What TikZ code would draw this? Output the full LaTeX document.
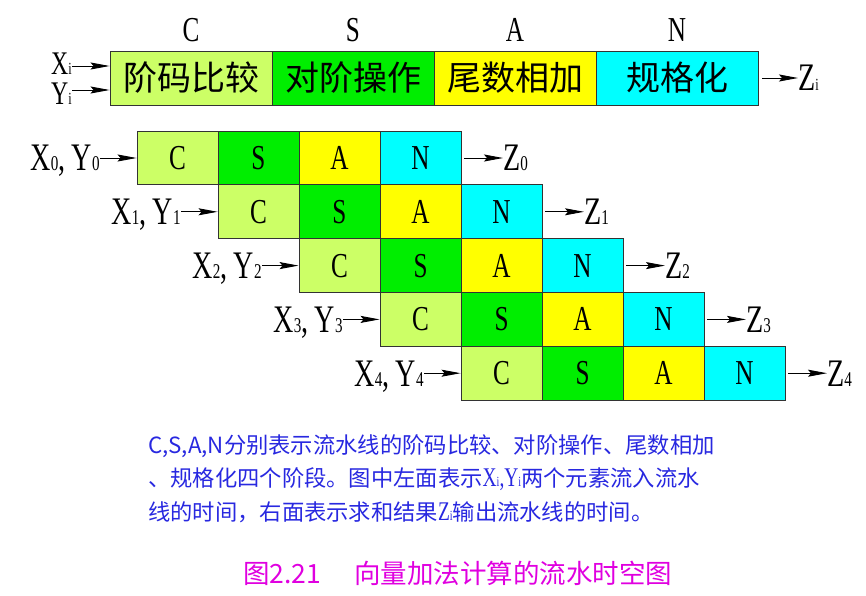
\documentclass[tikz,border=0pt]{standalone}
\usepackage{fontspec}
\usetikzlibrary{arrows.meta}
\setmainfont{Liberation Serif}
\newfontfamily\cjk{Noto Sans CJK SC}
\newfontfamily\nar[FakeStretch=0.72]{Liberation Serif}
\newcommand\sbs[1]{{\fontsize{21}{21}\selectfont #1}}
\newcommand\tsb[1]{{\fontsize{17}{17}\selectfont #1}}
\newcommand\nsb[1]{{\fontsize{14}{14}\selectfont #1}}
\definecolor{clg}{HTML}{CCFF66}
\definecolor{cgr}{HTML}{00EE00}
\definecolor{cye}{HTML}{FFFF00}
\definecolor{ccy}{HTML}{00FFFF}
\definecolor{cbl}{HTML}{2828E0}
\definecolor{cmg}{HTML}{E000E0}
\begin{document}
\begin{tikzpicture}[x=1pt,y=-1pt,
  tcell/.style={draw=black!80, line width=0.9pt, inner sep=0pt, minimum width=162pt, minimum height=54pt, font=\cjk\fontsize{34}{34}\selectfont},
  pcell/.style={draw=black!80, line width=0.9pt, inner sep=0pt, minimum width=81pt, minimum height=53.8pt, font=\nar\fontsize{35}{35}\selectfont},
  head/.style={inner sep=0pt, font=\nar\fontsize{35}{35}\selectfont},
  lab/.style={inner sep=0pt, font=\nar\fontsize{39}{39}\selectfont},
  slab/.style={inner sep=0pt, font=\nar\fontsize{33}{33}\selectfont},
  arr/.style={-{Stealth[length=19pt,width=7pt,inset=3pt]}, line width=0.9pt},
  note/.style={inner sep=0pt, anchor=west, text=cbl, font=\cjk\fontsize{22.3}{22.3}\selectfont}
]
\useasboundingbox (0,0) rectangle (866,596);

% headings
\node[head] (h0) at (191,30) {C};
\node[head] (h1) at (353,30) {S};
\node[head] (h2) at (515,30) {A};
\node[head] (h3) at (677,30) {N};

% top bar
\node[tcell, fill=clg] (t0) at (191,78) {阶码比较};
\node[tcell, fill=cgr] (t1) at (353,78) {对阶操作};
\node[tcell, fill=cye] (t2) at (515,78) {尾数相加};
\node[tcell, fill=ccy] (t3) at (677,78) {规格化};

\node[slab, anchor=base east] (xi) at (72,75) {X\tsb{i}};
\node[slab, anchor=base east] (yi) at (72,105) {Y\tsb{i}};
\coordinate (xa) at (72,66);
\coordinate (ya) at (72,90);
\draw[arr] (xa) -- (xa -| t0.west);
\draw[arr] (ya) -- (ya -| t0.west);
\node[lab, anchor=base west] (zi) at (798,91) {Z\tsb{i}};
\draw[arr] ([xshift=4pt]t3.east) -- (zi.base west |- t3.east);

% pipeline rows
\foreach \i in {0,...,4}{
  \pgfmathsetmacro{\xl}{137+81*\i}
  \pgfmathsetmacro{\yc}{158+53.8*\i}
  \node[pcell, fill=clg] (r\i0) at (\xl+40.5,\yc) {C};
  \node[pcell, fill=cgr] (r\i1) at (\xl+121.5,\yc) {S};
  \node[pcell, fill=cye] (r\i2) at (\xl+202.5,\yc) {A};
  \node[pcell, fill=ccy] (r\i3) at (\xl+283.5,\yc) {N};
  \node[lab, anchor=base east] (l\i) at (\xl-37,\yc+13) {X\sbs{\i},\,Y\sbs{\i}};
  \draw[arr] (l\i.base east |- r\i0.west) -- (r\i0.west);
  \node[lab, anchor=base west] (z\i) at (\xl+366,\yc+13) {Z\sbs{\i}};
  \draw[arr] ([xshift=3pt]r\i3.east) -- (z\i.base west |- r\i3.east);
}

% notes
\node[note] (n1) at (148,446) {C,S,A,N分别表示流水线的阶码比较、对阶操作、尾数相加};
\node[note] (n2) at (148,479) {、规格化四个阶段。图中左面表示{\nar\fontsize{27}{27}\selectfont X\nsb{i},Y\nsb{i}}两个元素流入流水};
\node[note] (n3) at (148,512) {线的时间，右面表示求和结果{\nar\fontsize{27}{27}\selectfont Z\nsb{i}}输出流水线的时间。};

\node[inner sep=0pt, anchor=west, text=cmg, font=\cjk\fontsize{26.5}{26.5}\selectfont] (cap) at (243,573) {图2.21\hspace{33pt}向量加法计算的流水时空图};
\end{tikzpicture}
\end{document}
